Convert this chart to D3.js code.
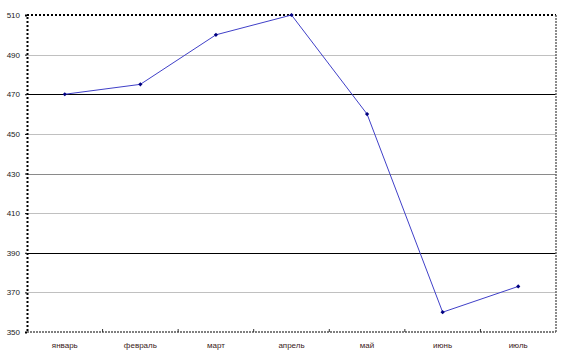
<!DOCTYPE html>
<meta charset="utf-8">
<style>
body { margin: 0; background: #fff; }
.tick text { font: 8px "Liberation Sans", Arial, sans-serif; fill: #222; }
</style>
<body>
<div id="chart"></div>
<script src="https://d3js.org/d3.v7.min.js"></script>
<script>

var months = ["январь", "февраль", "март", "апрель", "май", "июнь", "июль"];
var values = [470, 475, 500, 510, 460, 360, 373];
var yTicks = [350, 370, 390, 410, 430, 450, 470, 490, 510];

var width = 565, height = 352;
var margin = {top: 15, right: 9, bottom: 20, left: 27};

var svg = d3.select("#chart").append("svg")
    .attr("width", width)
    .attr("height", height);

var x = d3.scaleBand()
    .domain(months)
    .range([margin.left, width - margin.right]);

var y = d3.scaleLinear()
    .domain([350, 510])
    .range([height - margin.bottom, margin.top]);

// gridline colour: some dark, some light
function gridColor(v) {
  if (v == 470 || v == 390) return "#000";
  if (v == 430) return "#8a8a8a";
  return "#c0c0c0";
}

svg.append("g")
  .selectAll("line")
  .data(yTicks.filter(function(v) { return v > 350 && v < 510; }))
  .enter().append("line")
    .attr("x1", margin.left)
    .attr("x2", width - margin.right)
    .attr("y1", function(d) { return Math.round(y(d)) + 0.5; })
    .attr("y2", function(d) { return Math.round(y(d)) + 0.5; })
    .style("stroke", gridColor)
    .style("stroke-width", 1);

// frame (dotted)
var x0 = margin.left, x1 = width - margin.right;
var yTop = y(510), yBot = y(350);
svg.append("path")
  .attr("d", "M" + x0 + "," + yTop + "H" + x1)
  .style("stroke", "#000").style("stroke-width", 2).style("stroke-dasharray", "2,2").style("fill", "none");
svg.append("path")
  .attr("d", "M" + x1 + "," + yTop + "V" + yBot)
  .style("stroke", "#666").style("stroke-width", 1.5).style("stroke-dasharray", "2,1").style("fill", "none");
svg.append("path")
  .attr("d", "M" + x0 + "," + yBot + "H" + x1)
  .style("stroke", "#555").style("stroke-width", 1.5).style("stroke-dasharray", "2,1").style("fill", "none");

// y axis
var yAxis = svg.append("g")
  .attr("transform", "translate(" + x0 + ",0)")
  .call(d3.axisLeft(y).tickValues(yTicks).tickSize(2).tickPadding(5));
yAxis.select(".domain")
  .style("stroke", "#000").style("stroke-width", 2).style("stroke-dasharray", "2,2");
yAxis.selectAll(".tick line").style("stroke", "#000");

// x axis
var xAxis = svg.append("g")
  .attr("transform", "translate(0," + yBot + ")")
  .call(d3.axisBottom(x).tickSize(0).tickPadding(10));
xAxis.select(".domain").remove();
xAxis.selectAll(".tick text").style("fill", "#3a2020");

// small tick marks at band boundaries
svg.append("g")
  .selectAll("line")
  .data(months.slice(1))
  .enter().append("line")
    .attr("x1", function(d) { return x(d); })
    .attr("x2", function(d) { return x(d); })
    .attr("y1", yBot - 3)
    .attr("y2", yBot)
    .style("stroke", "#333");

// line
var line = d3.line()
  .x(function(d, i) { return x(months[i]) + x.bandwidth() / 2; })
  .y(function(d) { return y(d); });

svg.append("path")
  .datum(values)
  .attr("d", line)
  .style("fill", "none")
  .style("stroke", "#4040c8")
  .style("stroke-width", 1);

svg.append("g")
  .selectAll("path")
  .data(values)
  .enter().append("path")
    .attr("d", d3.symbol().type(d3.symbolSquare).size(9))
    .attr("transform", function(d, i) {
      return "translate(" + (x(months[i]) + x.bandwidth() / 2) + "," + y(d) + ") rotate(45)";
    })
    .style("fill", "#000080");

</script>
</body>
